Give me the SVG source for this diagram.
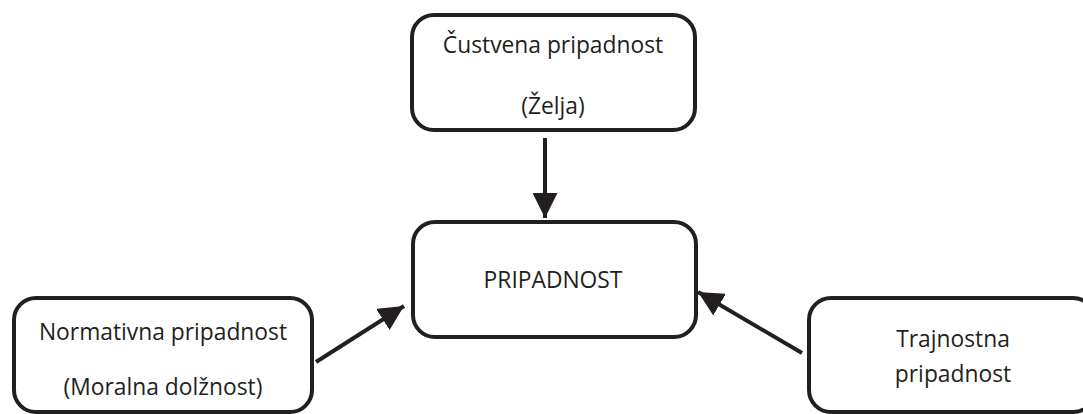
<svg xmlns="http://www.w3.org/2000/svg" width="1083" height="414" viewBox="0 0 1083 414">
<style>
.box{fill:#fff;stroke:#231f20;stroke-width:4}
.t{font-family:"Open Sans","Liberation Sans",sans-serif;font-size:22.8px;fill:#231f20;text-anchor:middle}
.c{stroke:#231f20;stroke-width:4;fill:none}
</style>
<defs>
<marker id="ah" markerUnits="userSpaceOnUse" markerWidth="27" markerHeight="25" refX="25" refY="12.5" orient="auto">
<path d="M0,0 L25,12.5 L0,25 Z" fill="#231f20"/>
</marker>
</defs>
<rect width="1083" height="414" fill="#fff"/>
<g id="connectors">
<line class="c" x1="545" y1="138" x2="545" y2="218" marker-end="url(#ah)"/>
<line class="c" x1="316" y1="362" x2="404" y2="306" marker-end="url(#ah)"/>
<line class="c" x1="802" y1="353" x2="698" y2="292" marker-end="url(#ah)"/>
</g>
<g id="node-custvena">
<rect class="box" x="412" y="15" width="283" height="115" rx="22"/>
<text class="t" x="553" y="53">Čustvena pripadnost</text>
<text class="t" x="553" y="114">(Želja)</text>
</g>
<g id="node-pripadnost">
<rect class="box" x="413" y="222" width="283" height="115" rx="22"/>
<text class="t" x="553" y="288">PRIPADNOST</text>
</g>
<g id="node-normativna">
<rect class="box" x="14" y="298" width="298" height="114" rx="22"/>
<text class="t" x="163" y="340">Normativna pripadnost</text>
<text class="t" x="163" y="395">(Moralna dolžnost)</text>
</g>
<g id="node-trajnostna">
<rect class="box" x="809" y="298" width="286" height="114" rx="22"/>
<text class="t" x="953" y="347">Trajnostna</text>
<text class="t" x="953" y="382">pripadnost</text>
</g>
</svg>
